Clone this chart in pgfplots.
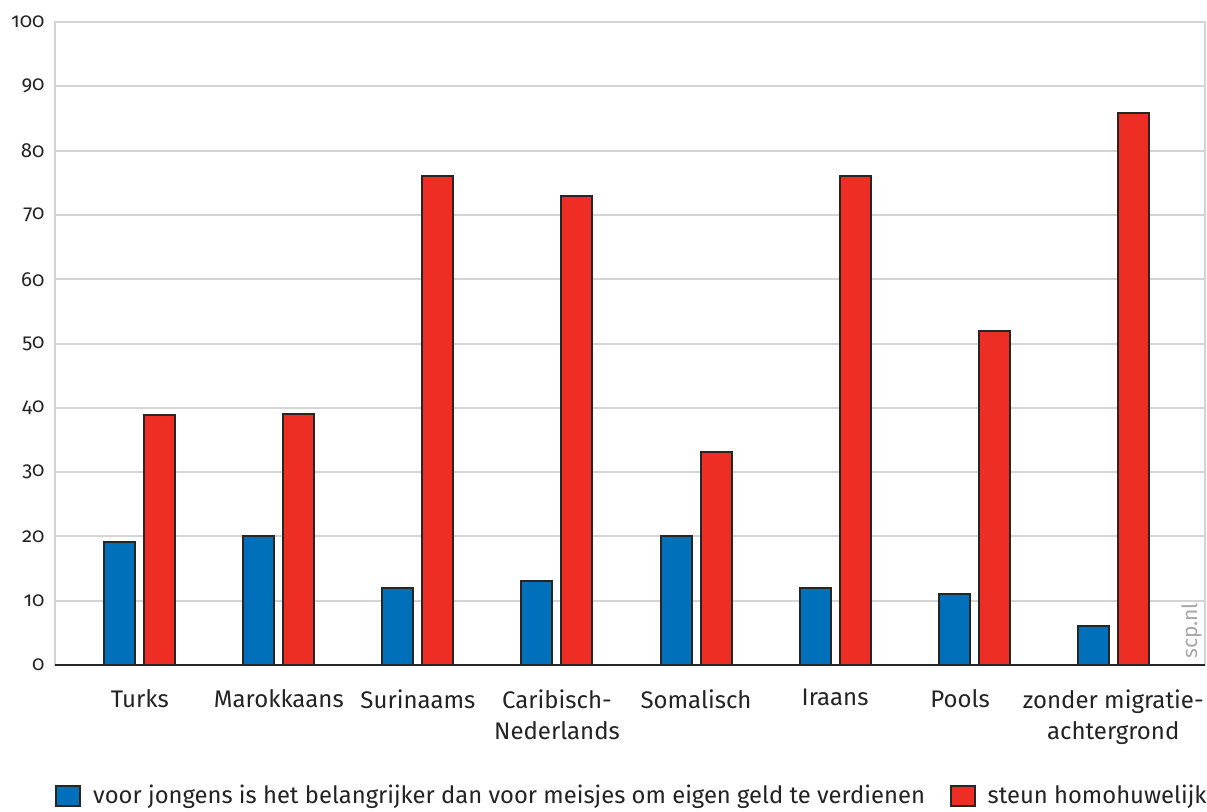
\documentclass[border=0pt]{standalone}
\usepackage{fontspec}
\setmainfont{Fira Sans}[Numbers=OldStyle]
\usepackage{pgfplots}
\pgfplotsset{compat=1.18}
\usetikzlibrary{calc}
\definecolor{barblue}{RGB}{0,112,186}
\definecolor{barred}{RGB}{238,45,36}
\definecolor{gridgray}{RGB}{212,212,212}
\definecolor{edge}{RGB}{38,38,38}
\definecolor{txt}{RGB}{35,35,35}
\begin{document}
\begin{tikzpicture}
\useasboundingbox (-27.5pt,-73pt) rectangle (576pt,332.5pt);
\begin{axis}[
  at={(0,0)}, anchor=south west,
  scale only axis, width=575pt, height=321.5pt,
  xmin=-0.61, xmax=7.66, ymin=0, ymax=100,
  ytick={0,10,...,100},
  xtick={0,...,7},
  xticklabels={Turks, Marokkaans, Surinaams, {Caribisch-\\Nederlands}, Somalisch, Iraans, {Pools\hbox to 14pt{}}, {zonder migratie-\\achtergrond}},
  major tick length=0pt,
  ymajorgrids, grid style={gridgray, line width=1pt},
  axis line style={gridgray, line width=1pt},
  /pgf/number format/assume math mode=true,
  tick label style={text=txt},
  yticklabel style={inner sep=0pt, xshift=-5pt, font=\fontsize{10.2}{13}\selectfont},
  xticklabel style={inner sep=0pt, yshift=-12pt, align=center, font=\fontsize{12}{15.5}\selectfont},
  bar width=15.5pt,
  legend style={at={(0,-0.2035)}, anchor=west, draw=none, inner sep=0pt,
    font=\fontsize{11.9}{15}\selectfont, text=txt,
    /tikz/every even column/.append style={column sep=10.5pt}},
  legend columns=2,
  legend cell align=left,
  legend image code/.code={\draw[#1, line width=0.8pt] (0pt,-5pt) rectangle (12pt,5pt); \path (16pt,0pt);},
]
\addplot[ybar, bar shift=-10pt, fill=barblue, draw=edge, line width=1pt] coordinates {
  (0,19.2) (1,20.1) (2,12) (3,13) (4,20.1) (5,12) (6,11) (7,6.1)};
\addlegendentry{voor jongens is het belangrijker dan voor meisjes om eigen geld te verdienen}
\addplot[ybar, bar shift=10pt, fill=barred, draw=edge, line width=1pt] coordinates {
  (0,38.9) (1,39) (2,76) (3,72.9) (4,33.1) (5,76) (6,51.9) (7,85.9)};
\addlegendentry{steun homohuwelijk}
\draw[edge, line width=1pt] (rel axis cs:0,0) -- (rel axis cs:1,0);
\node[rotate=90, anchor=base west, text=black!35, font=\fontsize{10.5}{12}\selectfont, inner sep=0pt]
  at ($(rel axis cs:1,0)+(-4pt,3pt)$) {scp.nl};
\end{axis}
\end{tikzpicture}
\end{document}
